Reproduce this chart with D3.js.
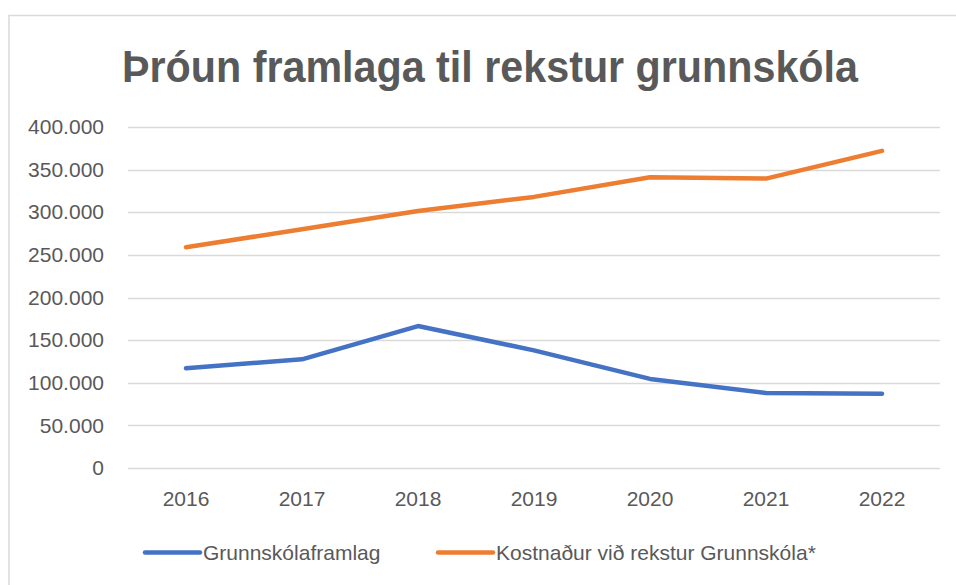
<!DOCTYPE html>
<html>
<head>
<meta charset="utf-8">
<script src="https://cdn.jsdelivr.net/npm/d3@7"></script>
<style>
  body { margin: 0; background: #fff; }
  text { font-family: "Liberation Sans", Arial, sans-serif; fill: #595959; }
</style>
</head>
<body>
<script>
const years = ["2016", "2017", "2018", "2019", "2020", "2021", "2022"];
const framlag = [117000, 127500, 166500, 138000, 104500, 88000, 87000];
const kostnadur = [259000, 280000, 301500, 318000, 341000, 339500, 372000];
const yTicks = [0, 50000, 100000, 150000, 200000, 250000, 300000, 350000, 400000];
const seriesNames = ["Grunnskólaframlag", "Kostnaður við rekstur Grunnskóla*"];
const colors = ["#4472C4", "#ED7D31"];

const W = 956, H = 585;
const plot = { left: 128, right: 940, top: 127, bottom: 468 };

const svg = d3.select("body").append("svg")
  .attr("width", W)
  .attr("height", H);

// chart frame (right and bottom edges fall outside the picture)
svg.append("rect")
  .attr("x", 9).attr("y", 15.5)
  .attr("width", 1000).attr("height", 700)
  .attr("fill", "#fff")
  .attr("stroke", "#d9d9d9")
  .attr("stroke-width", 1.5);

svg.append("text")
  .attr("x", 122)
  .attr("y", 82)
  .attr("font-size", "44px")
  .attr("font-weight", "bold")
  .attr("textLength", 736)
  .attr("lengthAdjust", "spacingAndGlyphs")
  .text("Þróun framlaga til rekstur grunnskóla");

const x = d3.scaleBand()
  .domain(years)
  .range([plot.left, plot.right]);

const y = d3.scaleLinear()
  .domain([0, 400000])
  .range([plot.bottom, plot.top]);

const fmt = d3.formatLocale({ decimal: ",", thousands: ".", grouping: [3], currency: ["", ""] }).format(",");

// gridlines
svg.append("g")
  .selectAll("line")
  .data(yTicks)
  .join("line")
  .attr("x1", plot.left)
  .attr("x2", plot.right)
  .attr("y1", d => Math.round(y(d)) + 0.5)
  .attr("y2", d => Math.round(y(d)) + 0.5)
  .attr("stroke", "#d9d9d9")
  .attr("stroke-width", 1.3);

// y labels
const yAxis = svg.append("g")
  .attr("transform", `translate(104,0)`)
  .call(d3.axisLeft(y).tickValues(yTicks).tickFormat(fmt).tickSize(0).tickPadding(0));
yAxis.select(".domain").remove();
yAxis.selectAll("text")
  .attr("font-size", "21px")
  .attr("font-family", null)
  .attr("fill", null);

// x labels
const xAxis = svg.append("g")
  .attr("transform", `translate(0,${plot.bottom})`)
  .call(d3.axisBottom(x).tickSize(0).tickPadding(0));
xAxis.select(".domain").remove();
xAxis.selectAll("text")
  .attr("font-size", "21px")
  .attr("font-family", null)
  .attr("fill", null)
  .attr("dy", null)
  .attr("y", 38);

const line = d3.line()
  .x((d, i) => x(years[i]) + x.bandwidth() / 2)
  .y(d => y(d));

[framlag, kostnadur].forEach((vals, i) => {
  svg.append("path")
    .datum(vals)
    .attr("fill", "none")
    .attr("stroke", colors[i])
    .attr("stroke-width", 4.5)
    .attr("stroke-linecap", "round")
    .attr("stroke-linejoin", "round")
    .attr("d", line);
});

// legend
const legendX = [145, 438];
seriesNames.forEach((name, i) => {
  const lg = svg.append("g")
    .attr("transform", `translate(${legendX[i]},552.5)`);
  lg.append("line")
    .attr("x1", 0).attr("x2", 55)
    .attr("stroke", colors[i])
    .attr("stroke-width", 4.5)
    .attr("stroke-linecap", "round");
  lg.append("text")
    .attr("x", 58)
    .attr("y", 7)
    .attr("font-size", "21px")
    .text(name);
});
</script>
</body>
</html>
